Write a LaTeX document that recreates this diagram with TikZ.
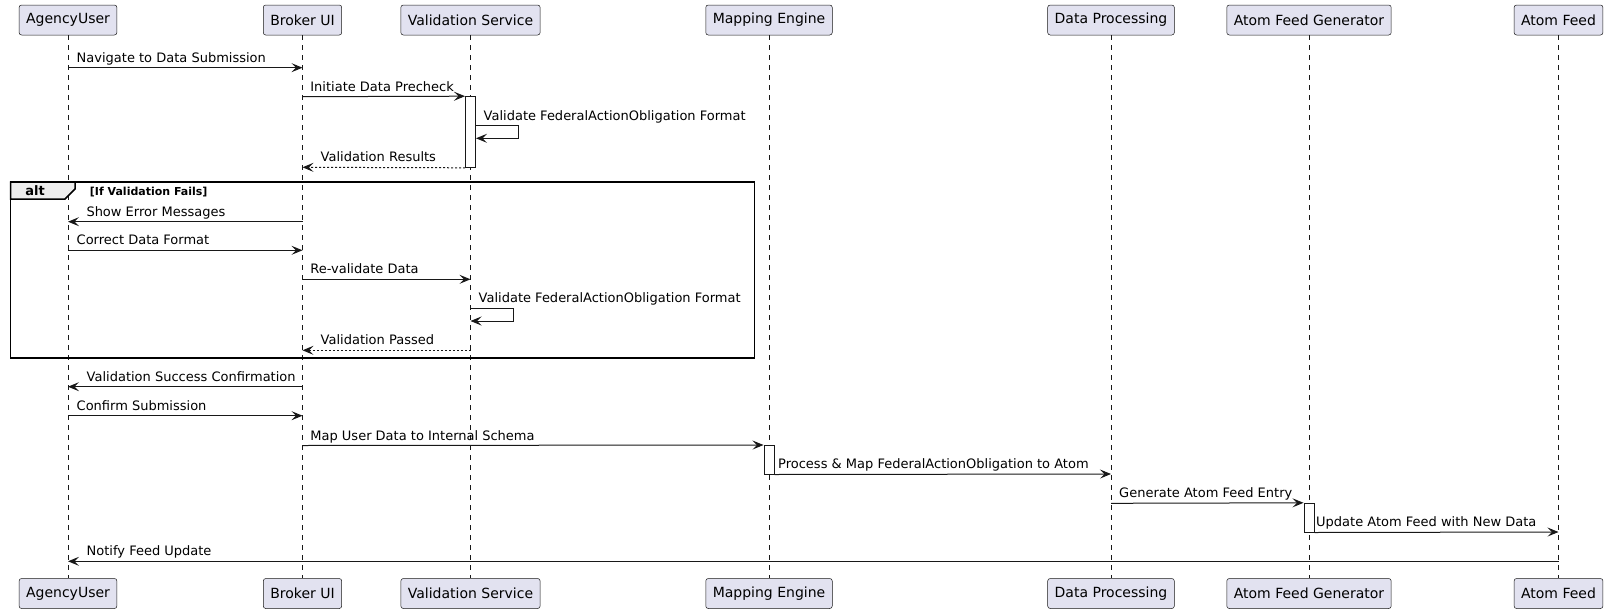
\documentclass[tikz,border=0pt]{standalone}
\usepackage{fontspec}
\setmainfont{DejaVu Sans}
\usetikzlibrary{arrows.meta}

\definecolor{linec}{HTML}{181818}
\definecolor{partfill}{HTML}{E2E2F0}
\definecolor{tabfill}{HTML}{EEEEEE}

\tikzset{
  part/.style={draw=linec, fill=partfill, line width=0.5pt, rounded corners=2.5pt,
    inner xsep=7pt, inner ysep=0pt, minimum height=30pt, font=\fontsize{14pt}{16pt}\selectfont},
  life/.style={draw=linec, line width=0.5pt, dash pattern=on 5pt off 5pt},
  act/.style={draw=linec, fill=white, line width=1pt, minimum width=10pt, inner sep=0pt},
  msg/.style={draw=linec, line width=1pt, -{Stealth[length=11pt, width=9pt, inset=4.5pt]}},
  ret/.style={msg, dash pattern=on 2pt off 2pt},
  lbl/.style={anchor=base west, inner sep=0pt, font=\fontsize{13pt}{15pt}\selectfont},
}

\begin{document}
\begin{tikzpicture}[x=1pt, y=-1pt]
\useasboundingbox (0,0) rectangle (1608,613);

% participants, top row
\node[part] (au)  at (68,20)     {AgencyUser};
\node[part] (bu)  at (302.5,20)  {Broker UI};
\node[part] (vs)  at (470.5,20)  {Validation Service};
\node[part] (me)  at (769,20)    {Mapping Engine};
\node[part] (dp)  at (1111,20)   {Data Processing};
\node[part] (afg) at (1309,20)   {Atom Feed Generator};
\node[part] (af)  at (1558.5,20) {Atom Feed};

% participants, bottom row
\node[part] (au2)  at (68,593.5)     {AgencyUser};
\node[part] (bu2)  at (302.5,593.5)  {Broker UI};
\node[part] (vs2)  at (470.5,593.5)  {Validation Service};
\node[part] (me2)  at (769,593.5)    {Mapping Engine};
\node[part] (dp2)  at (1111,593.5)   {Data Processing};
\node[part] (afg2) at (1309,593.5)   {Atom Feed Generator};
\node[part] (af2)  at (1558.5,593.5) {Atom Feed};

% lifelines
\draw[life] (au.south) -- (au2.north);
\draw[life] (bu.south) -- (bu2.north);
\draw[life] (vs.south) -- (vs2.north);
\draw[life] (me.south) -- (me2.north);
\draw[life] (dp.south) -- (dp2.north);
\draw[life] (afg.south) -- (afg2.north);
\draw[life] (af.south) -- (af2.north);

% message rows
\coordinate (m1)  at (0,67.7);
\coordinate (m2)  at (0,96.7);
\coordinate (s1)  at (0,125.7);
\coordinate (s1b) at (0,138.3);
\coordinate (m4)  at (0,167.3);
\coordinate (m5)  at (0,221.7);
\coordinate (m6)  at (0,250.3);
\coordinate (m7)  at (0,279.3);
\coordinate (s2)  at (0,308.3);
\coordinate (s2b) at (0,321);
\coordinate (m9)  at (0,350.3);
\coordinate (m10) at (0,386.7);
\coordinate (m11) at (0,415.7);
\coordinate (m12) at (0,445.5);
\coordinate (m13) at (0,474);
\coordinate (m14) at (0,503.3);
\coordinate (m15) at (0,532);
\coordinate (m16) at (0,561.3);

% activation bars
\node[act, minimum height=70.6pt] (act1) at (470.5,132)    {};
\node[act, minimum height=28.5pt] (act2) at (769,459.75)   {};
\node[act, minimum height=28.7pt] (act3) at (1309,517.65)  {};

% alt fragment
\draw[black, line width=1.5pt] (10.7,182) rectangle (754.7,358);
\draw[black, line width=1.5pt, fill=tabfill] (10.7,182) -- (75,182) -- (75,189) -- (65,199) -- (10.7,199) -- cycle;
\node[anchor=base west, inner sep=0pt, font=\bfseries\fontsize{13pt}{15pt}\selectfont] (alttag) at (25.2,195.3) {alt};
\node[anchor=base west, inner sep=0pt, font=\bfseries\fontsize{11pt}{13pt}\selectfont] (altcond) at (89.7,195) {[If Validation Fails]};

% messages
\draw[msg] (au |- m1) -- (bu |- m1);
\node[lbl] (t1) at (76.5,62.2) {Navigate to Data Submission};

\draw[msg] (bu |- m2) -- (act1.north west);
\node[lbl] (t2) at (310.2,91.2) {Initiate Data Precheck};

\draw[msg] (act1.east |- s1) -- ++(42.5,0) -- ++(0,12.6) -- (act1.east |- s1b);
\node[lbl] (t3) at (483.5,120.2) {Validate FederalActionObligation Format};

\draw[ret] (act1.south west) -- (bu |- m4);
\node[lbl] (t4) at (320.5,161.8) {Validation Results};

\draw[msg] (bu |- m5) -- (au |- m5);
\node[lbl] (t5) at (86.3,216.2) {Show Error Messages};

\draw[msg] (au |- m6) -- (bu |- m6);
\node[lbl] (t6) at (76.5,244.8) {Correct Data Format};

\draw[msg] (bu |- m7) -- (vs |- m7);
\node[lbl] (t7) at (310.2,273.8) {Re-validate Data};

\draw[msg] (vs |- s2) -- ++(42.5,0) -- ++(0,12.7) -- (vs |- s2b);
\node[lbl] (t8) at (478.5,302.8) {Validate FederalActionObligation Format};

\draw[ret] (vs |- m9) -- (bu |- m9);
\node[lbl] (t9) at (320.5,344.8) {Validation Passed};

\draw[msg] (bu |- m10) -- (au |- m10);
\node[lbl] (t10) at (86.5,381.2) {Validation Success Confirmation};

\draw[msg] (au |- m11) -- (bu |- m11);
\node[lbl] (t11) at (76.5,410.2) {Confirm Submission};

\draw[msg] (bu |- m12) -- (act2.north west);
\node[lbl] (t12) at (310.2,440) {Map User Data to Internal Schema};

\draw[msg] (act2.south east) -- (dp |- m13);
\node[lbl] (t13) at (778,468.5) {Process \& Map FederalActionObligation to Atom};

\draw[msg] (dp |- m14) -- (act3.north west);
\node[lbl] (t14) at (1119,497.8) {Generate Atom Feed Entry};

\draw[msg] (act3.south east) -- (af |- m15);
\node[lbl] (t15) at (1316,526.5) {Update Atom Feed with New Data};

\draw[msg] (af |- m16) -- (au |- m16);
\node[lbl] (t16) at (86.5,555.8) {Notify Feed Update};

\end{tikzpicture}
\end{document}
